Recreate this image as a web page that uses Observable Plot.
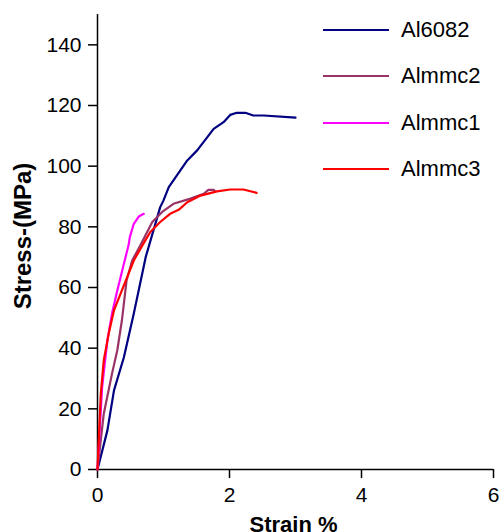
<!DOCTYPE html>
<html>
<head>
<meta charset="utf-8">
<script src="https://cdn.jsdelivr.net/npm/d3@7"></script>
<script src="https://cdn.jsdelivr.net/npm/@observablehq/plot@0.6"></script>
<style>
  html, body { margin: 0; padding: 0; background: #fff; }
  #wrap { position: relative; width: 499px; height: 532px; overflow: hidden; font-family: "Liberation Sans", Arial, sans-serif; }
  #legend { position: absolute; left: 0; top: 0; }
  .li { position: absolute; left: 323px; height: 0; }
  .li .sw { position: absolute; left: 0; width: 66px; height: 2px; top: -1px; }
  .li .lb { position: absolute; left: 78px; top: -13px; font-size: 22px; line-height: 26px; white-space: nowrap; color: #000; }
</style>
</head>
<body>
<div id="wrap"><div id="legend"></div></div>
<script>
// Series names and colours
const seriesNames = ["Al6082", "Almmc2", "Almmc1", "Almmc3"];
const seriesColors = ["#000080", "#993366", "#FF00FF", "#FF0000"];

// Strain % (x) and Stress MPa (y)
const al6082X = [0, 0.15, 0.25, 0.40, 0.55, 0.73, 0.95, 1.0, 1.08, 1.36, 1.51, 1.76, 1.91, 2.01, 2.11, 2.24, 2.36, 2.52, 3.0];
const al6082Y = [0, 12.9, 26.1, 37, 51.4, 70, 86.5, 88.7, 93.1, 101.9, 105.2, 112.3, 114.5, 116.9, 117.6, 117.6, 116.7, 116.7, 116];

const almmc2X = [0, 0.095, 0.22, 0.30, 0.37, 0.44, 0.525, 0.65, 0.83, 0.98, 1.15, 1.41, 1.61, 1.68, 1.76, 1.78];
const almmc2Y = [0, 18.4, 31.6, 39.3, 49.2, 62.3, 68.9, 73.9, 81.6, 84.9, 87.6, 89.3, 90.9, 92.2, 92.2, 91.7];

const almmc1X = [0, 0.07, 0.15, 0.22, 0.30, 0.40, 0.47, 0.49, 0.55, 0.625, 0.70];
const almmc1Y = [0, 27.2, 42.6, 51.4, 59, 67.8, 73.9, 76.6, 81, 83.4, 84.3];

const almmc3X = [0, 0.05, 0.095, 0.17, 0.25, 0.35, 0.45, 0.55, 0.68, 0.80, 0.95, 1.10, 1.23, 1.36, 1.56, 1.81, 2.01, 2.21, 2.41];
const almmc3Y = [0, 25, 36, 44.8, 52.5, 58, 63.4, 68.9, 73.9, 78.3, 81.6, 84.3, 85.6, 88.1, 90.3, 91.7, 92.3, 92.3, 91.2];

const xTicks = [0, 2, 4, 6];
const yTicks = [0, 20, 40, 60, 80, 100, 120, 140];
const xTitle = "Strain %";
const yTitle = "Stress-(MPa)";

const seriesX = [al6082X, almmc2X, almmc1X, almmc3X];
const seriesY = [al6082Y, almmc2Y, almmc1Y, almmc3Y];

const rows = [];
seriesNames.forEach((name, i) => {
  seriesX[i].forEach((x, j) => rows.push({series: name, x, y: seriesY[i][j]}));
});

const chart = Plot.plot({
  width: 499,
  height: 532,
  marginLeft: 97,
  marginRight: 6,
  marginTop: 14,
  marginBottom: 63,
  style: {fontFamily: '"Liberation Sans", Arial, sans-serif', fontSize: "21px", background: "#fff", color: "#000", overflow: "visible"},
  x: {domain: [0, 6]},
  y: {domain: [0, 150]},
  color: {domain: seriesNames, range: seriesColors},
  marks: [
    Plot.axisX({ticks: xTicks, tickFormat: d3.format("d"), tickSize: 9, tickPadding: 9, label: null, fontSize: 21, strokeWidth: 1.5}),
    Plot.axisY({ticks: yTicks, tickFormat: d3.format("d"), tickSize: 9, tickPadding: 7, label: null, fontSize: 21, strokeWidth: 1.5}),
    Plot.ruleX([0], {y1: 0, y2: 150, stroke: "#000", strokeWidth: 1.5}),
    Plot.ruleY([0], {stroke: "#000", strokeWidth: 1.5}),
    Plot.line(rows, {x: "x", y: "y", z: "series", stroke: "series", strokeWidth: 2.2, strokeLinejoin: "round"}),
    Plot.text([xTitle], {frameAnchor: "bottom", dx: -2, dy: 55, text: d => d, fontWeight: "bold", fontSize: 22, lineAnchor: "middle"}),
    Plot.text([yTitle], {frameAnchor: "left", textAnchor: "middle", dx: -74, dy: -6, rotate: -90, text: d => d, fontWeight: "bold", fontSize: 24, lineAnchor: "middle"})
  ]
});

document.getElementById("wrap").prepend(chart);
chart.style.position = "absolute";
chart.style.left = "0";
chart.style.top = "0";

const legendTops = [30, 76, 123, 169];
const legend = document.getElementById("legend");
seriesNames.forEach((name, i) => {
  const item = document.createElement("div");
  item.className = "li";
  item.style.top = legendTops[i] + "px";
  item.innerHTML = `<div class="sw" style="background:${seriesColors[i]}"></div><div class="lb">${name}</div>`;
  legend.appendChild(item);
});
</script>
</body>
</html>
